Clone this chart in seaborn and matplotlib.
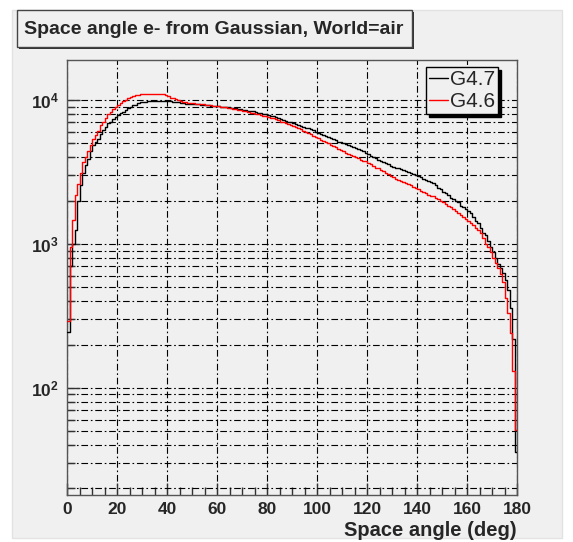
import numpy as np
import pandas as pd
import matplotlib
matplotlib.use('Agg')
import matplotlib.pyplot as plt
import seaborn as sns
from matplotlib.patches import Rectangle
from matplotlib.lines import Line2D
from matplotlib.ticker import MultipleLocator, LogLocator, FixedLocator, NullFormatter

# histogram binning: 1 degree bins from 0 to 180
angle_edges = list(range(0, 181))

# G4.7 entries per bin (black)
g47_counts = [
    245, 700, 1000, 1250, 2000, 2550, 3100, 3550, 3900, 4400,
    4900, 5100, 5400, 5800, 6200, 6500, 6900, 7100, 7400, 7600,
    7900, 8100, 8300, 8500, 8800, 9000, 9200, 9300, 9500, 9650,
    9700, 9750, 9800, 9850, 9850, 9800, 9850, 9840, 9850, 9800,
    9850, 9800, 9750, 9700, 9650, 9550, 9500, 9450, 9400, 9400,
    9400, 9350, 9400, 9300, 9300, 9250, 9200, 9150, 9150, 9100,
    9050, 9000, 8950, 8950, 8900, 8850, 8800, 8750, 8700, 8650,
    8600, 8500, 8450, 8400, 8350, 8250, 8200, 8150, 8050, 7950,
    7850, 7800, 7700, 7600, 7500, 7400, 7300, 7200, 7100, 7000,
    6900, 6800, 6750, 6650, 6550, 6450, 6350, 6250, 6150, 6050,
    5950, 5850, 5750, 5650, 5550, 5450, 5350, 5250, 5150, 5100,
    5000, 4950, 4850, 4800, 4700, 4650, 4550, 4500, 4400, 4300,
    4200, 4100, 4000, 3950, 3850, 3800, 3700, 3650, 3600, 3500,
    3450, 3400, 3350, 3300, 3250, 3200, 3150, 3100, 3050, 3000,
    2950, 2900, 2850, 2800, 2750, 2700, 2650, 2550, 2450, 2400,
    2300, 2250, 2200, 2100, 2050, 2000, 1950, 1850, 1800, 1750,
    1700, 1650, 1550, 1450, 1400, 1300, 1200, 1150, 1050, 950,
    880, 800, 730, 680, 630, 560, 480, 360, 220, 36,
]

# G4.6 entries per bin (red)
g46_counts = [
    290, 960, 1470, 2200, 2600, 3100, 3700, 4000, 4400, 4900,
    5400, 5700, 6100, 6700, 7100, 7500, 8000, 8300, 8700, 9000,
    9300, 9600, 9800, 10000, 10300, 10500, 10700, 10800, 10900, 10950,
    11000, 11000, 11050, 11000, 11000, 11050, 11000, 11000, 10950, 10800,
    10600, 10400, 10300, 10200, 10000, 9900, 9750, 9700, 9600, 9550,
    9500, 9450, 9450, 9400, 9350, 9300, 9250, 9200, 9150, 9100,
    9050, 9000, 8950, 8900, 8850, 8750, 8700, 8650, 8550, 8500,
    8450, 8350, 8300, 8200, 8150, 8050, 8000, 7900, 7800, 7700,
    7600, 7550, 7450, 7350, 7250, 7100, 7000, 6900, 6800, 6700,
    6600, 6500, 6350, 6250, 6100, 6000, 5900, 5800, 5650, 5550,
    5450, 5300, 5200, 5100, 5000, 4900, 4800, 4700, 4600, 4500,
    4400, 4300, 4250, 4150, 4100, 4000, 3950, 3850, 3800, 3750,
    3650, 3600, 3500, 3400, 3350, 3250, 3200, 3100, 3050, 2950,
    2900, 2850, 2800, 2750, 2700, 2650, 2600, 2550, 2500, 2450,
    2400, 2350, 2300, 2250, 2200, 2150, 2150, 2100, 2050, 2000,
    1950, 1900, 1850, 1800, 1750, 1700, 1650, 1600, 1550, 1500,
    1450, 1400, 1350, 1300, 1250, 1200, 1100, 1000, 950, 880,
    800, 740, 680, 620, 540, 420, 330, 240, 130, 51,
]

versions = ['G4.7', 'G4.6']
line_colors = ['#000000', '#ff0000']
x_ticks = [0, 20, 40, 60, 80, 100, 120, 140, 160, 180]
title_text = 'Space angle e- from Gaussian, World=air'
x_label = 'Space angle (deg)'

bin_centers = [e + 0.5 for e in angle_edges[:-1]]
hist_df = pd.DataFrame({
    'angle': bin_centers + bin_centers,
    'entries': g47_counts + g46_counts,
    'version': [versions[0]] * len(g47_counts) + [versions[1]] * len(g46_counts),
})

sns.set_style('ticks')
plt.rcParams['font.family'] = ['Liberation Sans', 'DejaVu Sans']
plt.rcParams['mathtext.fontset'] = 'custom'
plt.rcParams['mathtext.bf'] = 'Liberation Sans:bold'
plt.rcParams['mathtext.rm'] = 'Liberation Sans'

bg = '#f0f0f0'
fig = plt.figure(figsize=(5.73, 5.42), dpi=100)
fig.patch.set_facecolor('white')
# ROOT-like gray canvas
fig.patches.append(Rectangle((12 / 573, 4 / 542), 550 / 573, 528 / 542, transform=fig.transFigure,
                             facecolor=bg, edgecolor='#e2e2e2', lw=1, zorder=-5))

ax = fig.add_axes([67 / 573, 47 / 542, 450 / 573, 435 / 542])
ax.set_zorder(1)
ax.set_facecolor(bg)

for name, color in zip(versions, line_colors):
    sns.histplot(data=hist_df[hist_df['version'] == name], x='angle', weights='entries',
                 bins=angle_edges, element='step', fill=False, color=color,
                 linewidth=1.0, ax=ax, zorder=3)

ax.set_yscale('log')
ax.set_xlim(0, 180)
ax.set_ylim(18, 19000)

# ticks
ax.xaxis.set_major_locator(FixedLocator(x_ticks))
ax.xaxis.set_minor_locator(MultipleLocator(5))
ax.yaxis.set_major_locator(LogLocator(base=10, numticks=10))
ax.yaxis.set_minor_locator(LogLocator(base=10, subs=np.arange(2, 10), numticks=20))
ax.yaxis.set_minor_formatter(NullFormatter())
ax.set_yticks([100, 1000, 10000])
ax.set_yticklabels([r'$\mathbf{10^{2}}$', r'$\mathbf{10^{3}}$', r'$\mathbf{10^{4}}$'])
ax.set_xticklabels([str(t) for t in x_ticks])
ax.tick_params(which='major', direction='in', length=9, width=1, color='#333333',
               labelsize=12.5, pad=5)
ax.tick_params(which='minor', direction='in', length=6, width=1, color='#333333')
ax.tick_params(axis='y', which='major', labelsize=12.5, pad=6)
for lab in ax.get_xticklabels():
    lab.set_fontweight('bold')

# dash-dot grid
grid_style = dict(color='black', linewidth=0.8, linestyle=(0, (6, 2.5, 1.5, 2.5)))
ax.grid(True, axis='x', which='major', **grid_style)
ax.grid(True, axis='y', which='both', **grid_style)
ax.set_axisbelow(True)

for sp in ax.spines.values():
    sp.set_color('#555555')
    sp.set_linewidth(1.0)

ax.set_ylabel('')
ax.set_xlabel(x_label, fontsize=14.5, fontweight='bold', loc='right', labelpad=3)

# legend with ROOT style shadow
handles = [Line2D([], [], color=c, lw=1) for c in line_colors]
leg = ax.legend(handles, versions, loc='upper right', bbox_to_anchor=(498 / 573, 475 / 542),
                bbox_transform=fig.transFigure, fontsize=15, frameon=True, fancybox=False,
                edgecolor='black', facecolor=bg, framealpha=1, borderpad=0.15,
                labelspacing=0.15, handlelength=0.9, handletextpad=0.1, borderaxespad=0,
                shadow={'color': 'black', 'alpha': 1})
leg.get_frame().set_linewidth(1.0)

# title box
fig.patches.append(Rectangle((19 / 573, 493 / 542), 395 / 573, 37 / 542, transform=fig.transFigure,
                             facecolor='#333333', edgecolor='none', zorder=1))
fig.patches.append(Rectangle((17 / 573, 495 / 542), 395 / 573, 37 / 542, transform=fig.transFigure,
                             facecolor=bg, edgecolor='#444444', lw=1, zorder=2))
fig.text(214 / 573, 513 / 542, title_text, ha='center', va='center', fontsize=14,
         fontweight='bold', zorder=3)

fig.savefig('out.png', dpi=100, facecolor=fig.get_facecolor())
